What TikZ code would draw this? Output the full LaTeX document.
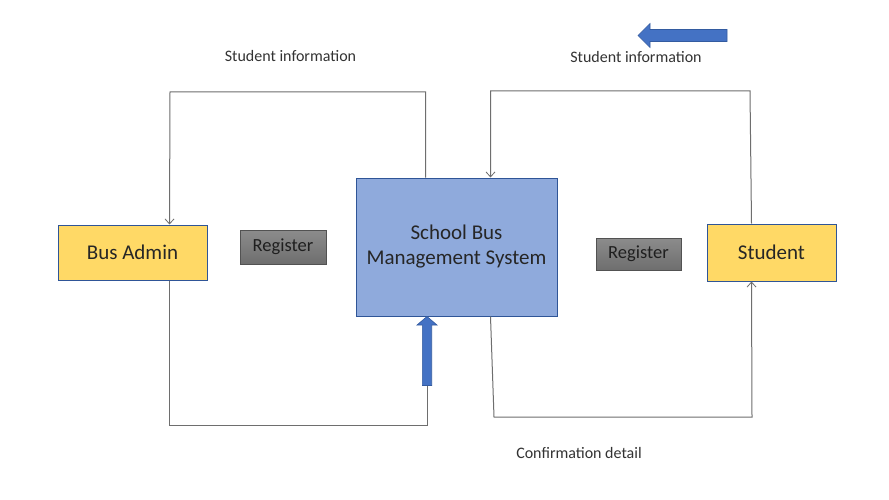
\documentclass[tikz,border=0pt]{standalone}
\usepackage{fontspec}
\setmainfont{Carlito}
\usetikzlibrary{arrows.meta,calc}
\definecolor{ylw}{HTML}{FFD966}
\definecolor{bdr}{HTML}{2F5597}
\definecolor{sysfill}{HTML}{8FAADC}
\definecolor{arrblue}{HTML}{4472C4}
\definecolor{txt}{HTML}{262626}
\definecolor{lbl}{HTML}{333333}
\definecolor{conncol}{HTML}{6E6E6E}
\definecolor{regtop}{HTML}{8C8C8C}
\definecolor{regbot}{HTML}{6E6E6E}
\tikzset{
  x=1pt, y=-1pt,
  actor/.style={draw=bdr, line width=1pt, fill=ylw, text=txt, font=\fontsize{21}{25}\selectfont, inner sep=0pt},
  sysbox/.style={draw=bdr, line width=1pt, fill=sysfill, text=txt, font=\fontsize{21}{25}\selectfont, align=center, inner sep=0pt},
  regbox/.style={draw=black!68, line width=0.8pt, top color=regtop, bottom color=regbot, text=black!88, font=\fontsize{18.5}{22}\selectfont, inner sep=0pt},
  lbltext/.style={text=lbl, font=\fontsize{16}{19}\selectfont, inner sep=0pt},
  conn/.style={draw=conncol, line width=1pt},
  tip/.style={-{Straight Barb[length=5pt,width=9pt,line width=0.8pt]}},
  blockarrow/.style={fill=arrblue, draw=bdr!80!arrblue, line width=0.6pt},
}
\begin{document}
\begin{tikzpicture}
\useasboundingbox (0,0) rectangle (889,500);
\fill[white] (0,0) rectangle (889,500);

% nodes
\node[actor, minimum width=149pt, minimum height=55pt] (admin) at (132.5,252.5) {Bus Admin};
\node[sysbox, minimum width=201pt, minimum height=138pt] (sys) at (456.5,247) {School Bus\\Management System};
\node[actor, minimum width=129pt, minimum height=57pt] (student) at (771.5,252.5) {Student};
\node[regbox, minimum width=86pt, minimum height=34pt] (regL) at (283,247) {Register};
\node[regbox, minimum width=85pt, minimum height=32pt] (regR) at (638.5,254) {Register};

% labels
\node[lbltext] (lab1) at (290.5,56) {Student information};
\node[lbltext] (lab2) at (636,57) {Student information};
\node[lbltext] (lab3) at (579,453) {Confirmation detail};

% bend coordinates
\coordinate (tl) at (170,92);
\coordinate (tr) at (750,91);
\coordinate (bl) at (170,425);
\coordinate (brl) at (494,417);
\coordinate (br) at (752,417);
\coordinate (ubase) at (427,385.5);

% connectors
\draw[conn, tip] ([xshift=70pt]sys.north west) |- (tl) -- ([xshift=112pt]admin.north west);
\draw[conn, tip] ([xshift=45pt]student.north west) -- (tr) -| ([xshift=135pt]sys.north west);
\draw[conn, tip] ([xshift=135pt]sys.south west) -- (brl) -- (br) -- ([xshift=45pt]student.south west);
\draw[conn] ([xshift=112pt]admin.south west) |- (ubase |- bl) -- (ubase);

% block arrows
\draw[blockarrow] (422.3,385.5) -- (422.3,325) -- (417,325) -- (427,316.5) -- (437,325) -- (431.7,325) -- (431.7,385.5) -- cycle;
\draw[blockarrow] (727,29.5) -- (650,29.5) -- (650,23.5) -- (638,35.5) -- (650,47.5) -- (650,41.5) -- (727,41.5) -- cycle;
\end{tikzpicture}
\end{document}
